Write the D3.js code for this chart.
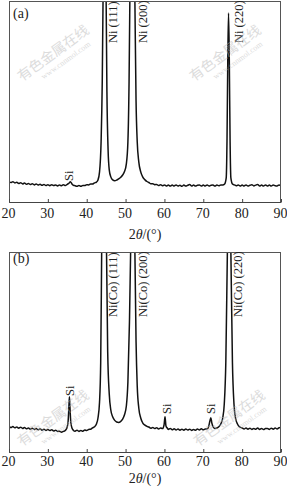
<!DOCTYPE html>
<html>
<head>
<meta charset="utf-8">
<script src="https://cdn.jsdelivr.net/npm/d3@7"></script>
<style>
  body { margin: 0; background: #fff; }
  svg { display: block; }
  .tick text { font-family: "Liberation Serif", "Times New Roman", serif; font-size: 14px; fill: #222; }
</style>
</head>
<body>
<div id="chart"></div>
<script>
// x-ray diffraction scans, [2theta, intensity a.u.]
var scanA = [[20,10.2],[20.5,9.7],[21,10.1],[21.5,9.5],[22,9.8],[22.5,9.2],[23,9.6],[23.5,9.0],[24,9.4],[24.5,8.8],[25,9.2],[25.5,8.7],[26,9.1],[26.5,8.5],[27,9.0],[27.5,8.4],[28,8.8],[28.5,8.3],[29,8.7],[29.5,8.2],[30,8.6],[30.5,8.1],[31,8.6],[31.5,8.2],[32,8.5],[32.5,8.0],[33,8.5],[33.5,8.1],[34,8.6],[34.5,8.2],[35,8.8],[35.4,9.3],[35.8,10.1],[36.2,9.0],[36.6,8.3],[37,8.1],[37.5,7.8],[38,8.2],[38.5,7.8],[39,8.2],[39.5,8.2],[40,8.6],[40.5,8.5],[41,9.0],[41.5,8.9],[42,9.5],[42.5,9.9],[42.9,11],[43.3,15],[43.7,30],[44.0,60],[44.2,100],[44.4,160],[44.6,190],[44.8,160],[45.0,100],[45.2,55],[45.5,26],[45.8,16],[46.2,12.5],[46.7,11],[47.2,10.6],[47.7,10.9],[48.2,11.5],[48.7,12.2],[49.2,13.3],[49.7,15],[50.2,19],[50.6,30],[50.9,60],[51.1,100],[51.4,170],[51.7,200],[52.0,170],[52.4,100],[52.7,50],[53.0,30],[53.4,20],[53.9,15],[54.4,12.5],[55,11],[55.5,10.2],[56,9.7],[56.5,9.1],[57,9.1],[57.5,8.6],[58,8.7],[58.5,8.2],[59,8.6],[59.5,8.1],[60,8.5],[60.5,8.0],[61,8.4],[61.5,7.9],[62,8.4],[62.5,8.0],[63,8.5],[63.5,7.9],[64,8.3],[64.5,7.8],[65,8.4],[65.5,7.9],[66,8.3],[66.5,8.7],[67,8.0],[67.5,8.4],[68,7.9],[68.5,8.3],[69,8.5],[69.5,7.9],[70,8.4],[70.5,8.0],[71,8.5],[71.5,7.9],[72,8.3],[72.5,8.4],[73,7.9],[73.5,8.4],[74,8.1],[74.5,8.5],[75,8.5],[75.5,9.0],[75.9,12],[76.1,30],[76.3,70],[76.5,94],[76.7,70],[76.9,30],[77.1,12],[77.5,9.0],[78,8.5],[78.5,8.1],[79,8.5],[79.5,7.9],[80,8.4],[80.5,8.0],[81,8.5],[81.5,7.9],[82,8.3],[82.5,8.6],[83,8.0],[83.5,8.4],[84,8.7],[84.5,8.0],[85,8.4],[85.5,7.9],[86,8.5],[86.5,8.0],[87,8.4],[87.5,7.9],[88,8.5],[88.5,8.1],[89,8.0],[89.5,8.5],[90,8.2]];

var scanB = [[20,12.8],[20.5,12.2],[21,12.7],[21.5,12.1],[22,12.5],[22.5,11.9],[23,12.4],[23.5,11.8],[24,12.2],[24.5,11.6],[25,12.0],[25.5,11.4],[26,11.9],[26.5,11.3],[27,11.7],[27.5,11.1],[28,11.6],[28.5,10.9],[29,11.4],[29.5,10.8],[30,11.3],[30.5,10.7],[31,11.1],[31.5,10.5],[32,10.9],[32.5,10.3],[33,10.4],[33.5,9.9],[34,10.3],[34.5,10.8],[34.9,12],[35.2,15],[35.4,22],[35.55,27.6],[35.7,22],[35.9,15],[36.2,12],[36.6,10.8],[37,10.4],[37.5,10.9],[38,10.3],[38.5,10.8],[39,10.4],[39.5,11.0],[40,10.7],[40.5,11.3],[41,11.4],[41.5,12.1],[42,12.6],[42.5,14],[42.9,17],[43.3,25],[43.6,45],[43.85,100],[44.1,150],[44.5,180],[44.9,150],[45.1,100],[45.4,50],[45.8,29],[46.2,21],[46.7,17.5],[47.2,15.8],[47.7,15.0],[48.2,14.8],[48.7,15.2],[49.2,16.3],[49.7,18.5],[50.2,23],[50.6,35],[51.0,65],[51.3,100],[51.6,160],[51.85,190],[52.1,160],[52.4,100],[52.7,55],[53.0,33],[53.4,22],[53.9,17],[54.4,14.6],[55,13.4],[55.5,12.8],[56,12.5],[56.5,11.9],[57,12.3],[57.5,11.7],[58,12.1],[58.5,11.5],[59,12.0],[59.5,11.7],[59.9,13.5],[60.15,17.6],[60.4,13],[60.8,11.8],[61,11.3],[61.5,11.8],[62,11.1],[62.5,11.6],[63,11.0],[63.5,11.5],[64,10.9],[64.5,11.4],[65,10.9],[65.5,11.5],[66,11.0],[66.5,11.4],[67,10.8],[67.5,11.3],[68,10.9],[68.5,11.5],[69,11.0],[69.5,11.6],[70,11.1],[70.5,11.5],[71,11.6],[71.4,12.8],[71.7,15.5],[71.95,17.1],[72.2,14.5],[72.6,12.3],[73,11.8],[73.5,12.0],[74,12.6],[74.5,14],[75,17],[75.4,24],[75.8,45],[76.2,100],[76.6,150],[77.1,100],[77.5,45],[77.9,24],[78.3,17],[78.8,14],[79.3,12.6],[80,12.0],[80.5,11.5],[81,12.0],[81.5,11.4],[82,11.9],[82.5,11.3],[83,11.8],[83.5,11.4],[84,12.0],[84.5,11.3],[85,11.8],[85.5,11.2],[86,11.7],[86.5,11.8],[87,11.3],[87.5,11.9],[88,11.4],[88.5,12.0],[89,11.5],[89.5,12.1],[90,12.2]];

var xTicks = [20, 30, 40, 50, 60, 70, 80, 90];

// peak labels: [2theta where the label sits, text]
var peaksA = [[46.6, "Ni (111)"], [54.35, "Ni (200)"], [79.05, "Ni (220)"]];
var peaksB = [[46.75, "Ni(Co) (111)"], [54.5, "Ni(Co) (200)"], [78.9, "Ni(Co) (220)"]];
var siA = [35.35];
var siB = [35.55, 60.5, 71.8];

var width = 287, height = 486;
var serif = '"Liberation Serif", "Times New Roman", serif';

var svg = d3.select("#chart")
  .append("svg")
  .attr("width", width)
  .attr("height", height);

var xScale = d3.scaleLinear().domain([20, 90]).range([9, 281]);

function drawPanel(opt) {
  var yScale = d3.scaleLinear().domain([0, 100]).range([opt.bottom, opt.top]);
  var g = svg.append("g");

  g.append("clipPath").attr("id", opt.id)
    .append("rect")
    .attr("x", 9).attr("y", opt.top)
    .attr("width", 272).attr("height", opt.bottom - opt.top);

  var line = d3.line()
    .x(function(d) { return xScale(d[0]); })
    .y(function(d) { return yScale(d[1]); })
    .curve(d3.curveMonotoneX);

  g.append("path")
    .datum(opt.data)
    .attr("clip-path", "url(#" + opt.id + ")")
    .attr("d", line)
    .attr("fill", "none")
    .attr("stroke", "#111")
    .attr("stroke-width", 1.5)
    .attr("stroke-linejoin", "round");

  // frame
  g.append("rect")
    .attr("x", 9.5).attr("y", opt.top + 0.5)
    .attr("width", 271).attr("height", opt.bottom - opt.top)
    .attr("fill", "none")
    .attr("stroke", "#555")
    .attr("stroke-width", 1);

  var axis = d3.axisBottom(xScale)
    .tickValues(xTicks)
    .tickSizeInner(-3)
    .tickSizeOuter(0)
    .tickPadding(opt.pad);

  var ax = g.append("g")
    .attr("transform", "translate(0," + opt.bottom + ")")
    .call(axis);
  ax.select(".domain").attr("stroke", "#444");
  ax.selectAll(".tick line").attr("stroke", "#444");
  ax.selectAll(".tick text").attr("dx", -1);

  // axis title
  var t = g.append("text")
    .attr("x", 145).attr("y", opt.titleY)
    .attr("text-anchor", "middle")
    .attr("font-family", serif)
    .attr("font-size", 14)
    .attr("fill", "#222");
  t.append("tspan").text("2");
  t.append("tspan").attr("font-style", "italic").text("θ");
  t.append("tspan").text("/(°)");

  // panel tag
  g.append("text")
    .attr("x", 13).attr("y", opt.tagY)
    .attr("font-family", serif)
    .attr("font-size", 14)
    .attr("fill", "#222")
    .text(opt.tag);

  // peak labels, rotated
  g.selectAll(".peak-label")
    .data(opt.peaks)
    .enter().append("text")
    .attr("class", "peak-label")
    .attr("transform", function(d) {
      return "translate(" + xScale(d[0]) + "," + opt.peakY + ") rotate(-90)";
    })
    .attr("dy", "0.35em")
    .attr("font-family", serif)
    .attr("font-size", 12.5)
    .attr("fill", "#222")
    .text(function(d) { return d[1]; });

  g.selectAll(".si-label")
    .data(opt.si)
    .enter().append("text")
    .attr("class", "si-label")
    .attr("transform", function(d, i) {
      return "translate(" + xScale(d) + "," + opt.siY[i] + ") rotate(-90)";
    })
    .attr("dy", "0.35em")
    .attr("font-family", serif)
    .attr("font-size", 12.5)
    .attr("fill", "#222")
    .text("Si");
}

drawPanel({ id: "clipA", data: scanA, top: 1, bottom: 202, pad: 6, titleY: 239, tag: "(a)", tagY: 18,
  peaks: peaksA, peakY: 43, si: siA, siY: [181] });
drawPanel({ id: "clipB", data: scanB, top: 252, bottom: 452, pad: 4, titleY: 483, tag: "(b)", tagY: 263,
  peaks: peaksB, peakY: 317, si: siB, siY: [396, 414, 414] });

// faint source watermark
var marks = [[56, 57], [228, 57], [56, 422], [232, 422]];
marks.forEach(function(m) {
  var w = svg.append("g")
    .attr("transform", "translate(" + m[0] + "," + m[1] + ") rotate(-36)")
    .attr("fill", "#bbb")
    .attr("opacity", 0.5);
  w.append("text")
    .attr("text-anchor", "middle")
    .attr("font-family", '"Noto Sans CJK SC", sans-serif')
    .attr("font-size", 14)
    .text("有色金属在线");
  w.append("text")
    .attr("x", 6).attr("y", 11)
    .attr("text-anchor", "middle")
    .attr("font-family", serif)
    .attr("font-size", 8)
    .text("www.cnnmol.com");
});
</script>
</body>
</html>
